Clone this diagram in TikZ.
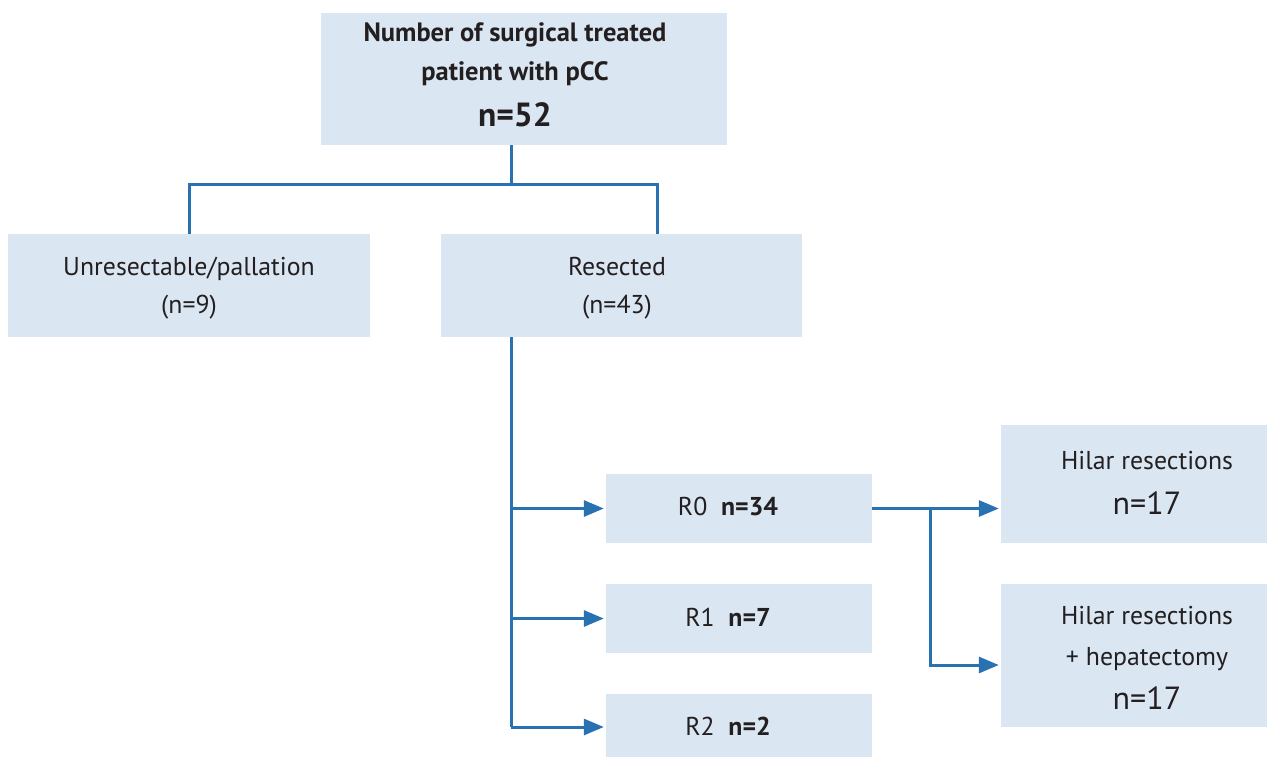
\documentclass[tikz,border=0pt]{standalone}
\usepackage{fontspec}
\setmainfont{PT Sans}
\usetikzlibrary{arrows.meta}
\definecolor{boxfill}{RGB}{218,230,242}
\definecolor{linec}{RGB}{41,114,178}
\definecolor{txt}{RGB}{35,31,32}
\tikzset{
  box/.style={draw=none,fill=boxfill,inner sep=0pt,anchor=center},
  lab/.style={text=txt,font=\fontsize{25.8}{30}\selectfont,inner sep=0pt,anchor=base},
  big/.style={text=txt,font=\fontsize{32}{38}\selectfont,inner sep=0pt,anchor=base},
  conn/.style={draw=linec,line width=3pt},
  arr/.style={conn,-{Triangle[length=20pt,width=16pt]},shorten >=2pt},
}
\begin{document}
\begin{tikzpicture}[x=1pt,y=-1pt]
\useasboundingbox (0,0) rectangle (1267,756);
% boxes
\node[box,minimum width=406pt,minimum height=132pt] (top) at (524,79) {};
\node[box,minimum width=362pt,minimum height=103pt] (left) at (189,285.5) {};
\node[box,minimum width=361pt,minimum height=103pt] (res) at (621.5,285.5) {};
\node[box,minimum width=266pt,minimum height=69pt] (r0) at (739,508.5) {};
\node[box,minimum width=266pt,minimum height=69pt] (r1) at (739,618.5) {};
\node[box,minimum width=266pt,minimum height=66pt] (r2) at (739,727) {};
\node[box,minimum width=266pt,minimum height=118pt] (h1) at (1134,484) {};
\node[box,minimum width=266pt,minimum height=143pt] (h2) at (1134,655.5) {};
% texts
\node[lab,font=\fontsize{26.5}{30}\selectfont\bfseries] (t1) at (515,41) {Number of surgical treated};
\node[lab,font=\fontsize{26.5}{30}\selectfont\bfseries] (t2) at (515,80) {patient with pCC};
\node[big,font=\fontsize{33.5}{38}\selectfont\bfseries] (t3) at (515,126.5) {n=52};
\node[lab] (l1) at (189,275) {Unresectable/pallation};
\node[lab] (l2) at (189,313) {(n=9)};
\node[lab] (s1) at (617,275) {Resected};
\node[lab] (s2) at (617,313) {(n=43)};
\node[lab] (r0t) at (728,515.5) {R0\ \ \textbf{n=34}};
\node[lab] (r1t) at (728,626) {R1\ \ \textbf{n=7}};
\node[lab] (r2t) at (728,735) {R2\ \ \textbf{n=2}};
\node[lab] (h1a) at (1147,469) {Hilar resections};
\node[big] (h1b) at (1147,514.5) {n=17};
\node[lab] (h2a) at (1147,624) {Hilar resections};
\node[lab] (h2b) at (1147,665) {+ hepatectomy};
\node[big] (h2c) at (1147,709.5) {n=17};
% junction coordinates
\coordinate (j0) at (511,184);
\coordinate (jl) at (189,184);
\coordinate (jr) at (657,184);
\coordinate (v0) at (511,337);
\coordinate (v3) at (511,727);
\coordinate (b0) at (930,509);
\coordinate (b1) at (930,665);
% connectors
\draw[conn] (top.south -| j0) -- (j0);
\draw[conn] (left.north -| jl) -- (jl) -- (jr) -- (res.north -| jr);
\draw[conn] (res.south -| v0) -- (v3);
\draw[arr] (v0 |- r0.west) -- (r0.west);
\draw[arr] (v0 |- r1.west) -- (r1.west);
\draw[arr] (v3) -- (v3 -| r2.west);
\draw[arr] (r0.east) -- (r0.east -| h1.west);
\draw[arr] (b0) -- (b1) -- (b1 -| h2.west);
\end{tikzpicture}
\end{document}
